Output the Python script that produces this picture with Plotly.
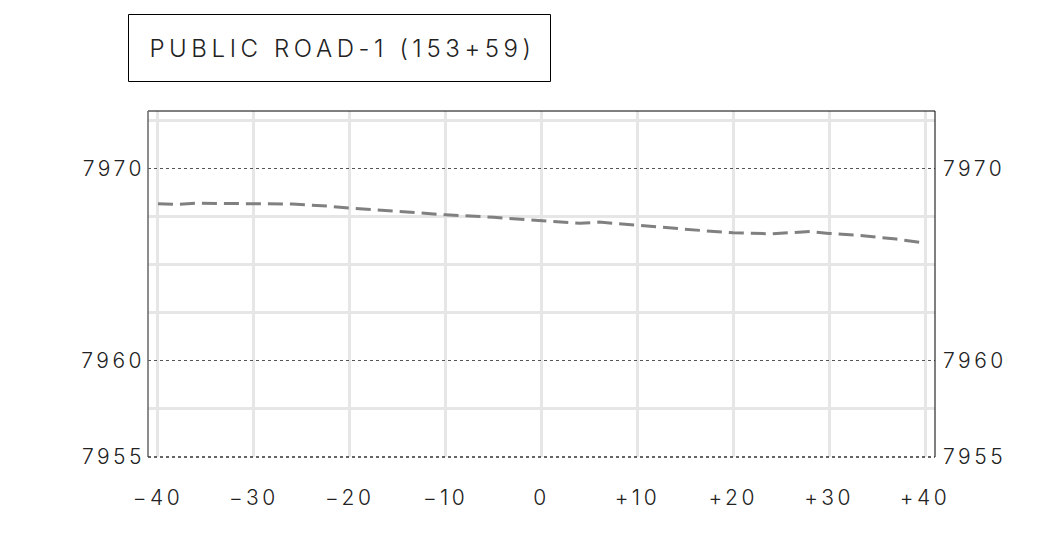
import plotly.graph_objects as go

# Data
offsets = [-40, -38, -36, -30, -26, -22, -20, -15, -10, -5, 0, 4, 6, 10, 13.5, 17, 20, 24, 28, 30, 33, 37, 40]
elev = [7968.18, 7968.14, 7968.20, 7968.19, 7968.16, 7968.04, 7967.95, 7967.78, 7967.60, 7967.47,
        7967.31, 7967.16, 7967.22, 7967.05, 7966.91, 7966.77, 7966.67, 7966.61, 7966.73, 7966.63,
        7966.54, 7966.34, 7966.13]
x_tickvals = [-40, -30, -20, -10, 0, 10, 20, 30, 40]
x_ticktext = ["\u221240", "\u221230", "\u221220", "\u221210", "0", "+10", "+20", "+30", "+40"]
y_tickvals = [7955, 7960, 7970]
y_ticktext = ["7955", "7960", "7970"]
y_minor_grid = [7957.5, 7962.5, 7965, 7967.5, 7972.5]
title_text = "PUBLIC ROAD-1 (153+59)"

FONT = "Inter, Lato, 'DejaVu Sans', sans-serif"
OFF = 8  # page body margin
W, H = 1039 - 2 * OFF, 542 - 2 * OFF
# target plot area in window pixels: x 148..935, y 111..457
L, T = 148 - OFF, 111 - OFF
R = (W + OFF) - 935
B = (H + OFF) - 457
pw, ph = W - L - R, H - T - B

def px_x(px):
    return (px - OFF - L) / pw

def px_y(py):
    return (H + OFF - B - py) / ph

fig = go.Figure()
fig.add_trace(go.Scatter(
    x=offsets, y=elev, mode="lines",
    line=dict(color="#808080", width=3, dash="15px,7px"),
    hoverinfo="skip", showlegend=False,
))
fig.add_trace(go.Scatter(
    x=offsets, y=elev, mode="lines", yaxis="y2",
    line=dict(color="rgba(0,0,0,0)", width=0),
    hoverinfo="skip", showlegend=False,
))

tickfont = dict(family=FONT, size=21, color="#222222", weight=300)

fig.update_layout(
    width=W, height=H,
    margin=dict(l=L, r=R, t=T, b=B),
    paper_bgcolor="white", plot_bgcolor="white",
    xaxis=dict(
        range=[-41.04, 41.04], tickmode="array", tickvals=x_tickvals, ticktext=x_ticktext,
        showgrid=True, gridcolor="#e6e6e6", gridwidth=2.5,
        zeroline=False, showline=False, ticks="", ticklabelstandoff=26,
        tickfont=tickfont,
    ),
    yaxis=dict(
        range=[7955, 7973], tickmode="array", tickvals=y_tickvals, ticktext=y_ticktext,
        showgrid=True, gridcolor="#555555", gridwidth=1, griddash="dot",
        minor=dict(tickmode="array", tickvals=y_minor_grid, showgrid=True,
                   gridcolor="#e6e6e6", gridwidth=2.5, griddash="solid", ticks=""),
        zeroline=False, showline=False, ticks="", ticklabelstandoff=2,
        tickfont=tickfont,
    ),
    yaxis2=dict(
        range=[7955, 7973], overlaying="y", side="right", tickmode="array",
        tickvals=y_tickvals, ticktext=y_ticktext, showgrid=False, zeroline=False,
        showline=False, ticks="", ticklabelstandoff=7, tickfont=tickfont,
    ),
    shapes=[
        # frame
        dict(type="line", xref="paper", yref="paper", x0=0, x1=1, y0=1, y1=1,
             line=dict(color="#000000", width=1)),
        dict(type="line", xref="paper", yref="paper", x0=1, x1=1, y0=0, y1=1,
             line=dict(color="#000000", width=1)),
        dict(type="line", xref="paper", yref="paper", x0=0, x1=0, y0=0, y1=1,
             line=dict(color="#666666", width=1.5)),
        dict(type="line", xref="paper", yref="paper", x0=0, x1=1, y0=0, y1=0,
             line=dict(color="#333333", width=1.5, dash="dot")),
        # title box
        dict(type="rect", xref="paper", yref="paper",
             x0=px_x(128.5), x1=px_x(550.5), y0=px_y(81.5), y1=px_y(14.5),
             line=dict(color="#000000", width=1), fillcolor="rgba(0,0,0,0)"),
    ],
    annotations=[
        dict(text=title_text, xref="paper", yref="paper", x=px_x(198), y=px_y(48),
             xanchor="left", yanchor="middle", showarrow=False,
             font=dict(family=FONT, size=24, color="#222222", weight=300)),
    ],
)

post = """
var gd = document.getElementById('{plot_id}');
function spaceOut(){
  gd.querySelectorAll('.xtick text, .ytick text, .y2tick text').forEach(function(t){ t.style.letterSpacing='3.5px'; });
  gd.querySelectorAll('.annotation-text').forEach(function(t){ t.style.letterSpacing='4.6px'; });
}
spaceOut();
gd.on('plotly_afterplot', spaceOut);
"""

fig.write_html("out.html", post_script=post)
